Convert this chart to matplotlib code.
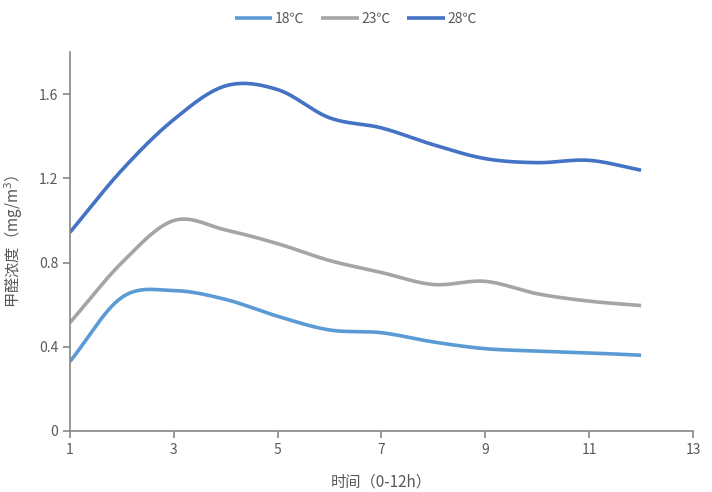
import numpy as np
import matplotlib
matplotlib.use("Agg")
from matplotlib import pyplot as plt

plt.rcParams['font.family'] = ['Noto Sans CJK SC', 'DejaVu Sans']

hours = [1, 2, 3, 4, 5, 6, 7, 8, 9, 10, 11, 12]
t18 = [0.33, 0.635, 0.667, 0.625, 0.545, 0.48, 0.467, 0.423, 0.391, 0.38, 0.371, 0.36]
t23 = [0.515, 0.80, 1.0, 0.955, 0.89, 0.81, 0.753, 0.696, 0.711, 0.652, 0.617, 0.596]
t28 = [0.944, 1.24, 1.48, 1.64, 1.622, 1.488, 1.44, 1.36, 1.294, 1.275, 1.286, 1.239]
labels = ['18℃', '23℃', '28℃']
colors = ['#5B9BD5', '#A5A5A5', '#4472C4']


# smooth line like the spreadsheet "smoothed line" option (catmull-rom)
def smooth(x, y, n=30):
    x = np.asarray(x, float)
    y = np.asarray(y, float)
    px = np.concatenate([[2*x[0]-x[1]], x, [2*x[-1]-x[-2]]])
    py = np.concatenate([[2*y[0]-y[1]], y, [2*y[-1]-y[-2]]])
    xs, ys = [], []
    t = np.linspace(0, 1, n, endpoint=False)
    for i in range(1, len(px)-2):
        for arr, out in ((px, xs), (py, ys)):
            p0, p1, p2, p3 = arr[i-1], arr[i], arr[i+1], arr[i+2]
            out.extend(0.5*((2*p1) + (-p0+p2)*t + (2*p0-5*p1+4*p2-p3)*t**2
                            + (-p0+3*p1-3*p2+p3)*t**3))
    xs.append(x[-1])
    ys.append(y[-1])
    return np.array(xs), np.array(ys)


fig = plt.figure(figsize=(7.12, 4.92), dpi=100)
ax = fig.add_axes([0.0983, 0.124, 0.875, 0.77])

for ser, lab, col in zip([t18, t23, t28], labels, colors):
    sx, sy = smooth(hours, ser)
    ax.plot(sx, sy, color=col, lw=2.6, label=lab, solid_capstyle='butt')

ax.set_xlim(1, 13)
ax.set_ylim(0, 1.8)
ax.set_xticks([1, 3, 5, 7, 9, 11, 13])
ax.set_yticks([0, 0.4, 0.8, 1.2, 1.6])
ax.set_yticklabels(['0', '0.4', '0.8', '1.2', '1.6'])

for s in ['top', 'right']:
    ax.spines[s].set_visible(False)
for s in ['left', 'bottom']:
    ax.spines[s].set_color('#868686')
    ax.spines[s].set_linewidth(1.2)
ax.tick_params(colors='#868686', labelcolor='#595959', labelsize=10, length=5, width=1.2)

ax.set_xlabel('时间（0-12h）', color='#595959', fontsize=11, labelpad=12)
ax.set_ylabel('甲醛浓度（mg/m$^3$）', color='#595959', fontsize=11, labelpad=10)

fig.legend(*ax.get_legend_handles_labels(), loc='center', bbox_to_anchor=(0.5, 0.962),
           ncol=3, frameon=False, fontsize=10, handlelength=2.7, columnspacing=1.2,
           handletextpad=0.2, labelcolor='#595959')

fig.savefig('out.png', dpi=100)
